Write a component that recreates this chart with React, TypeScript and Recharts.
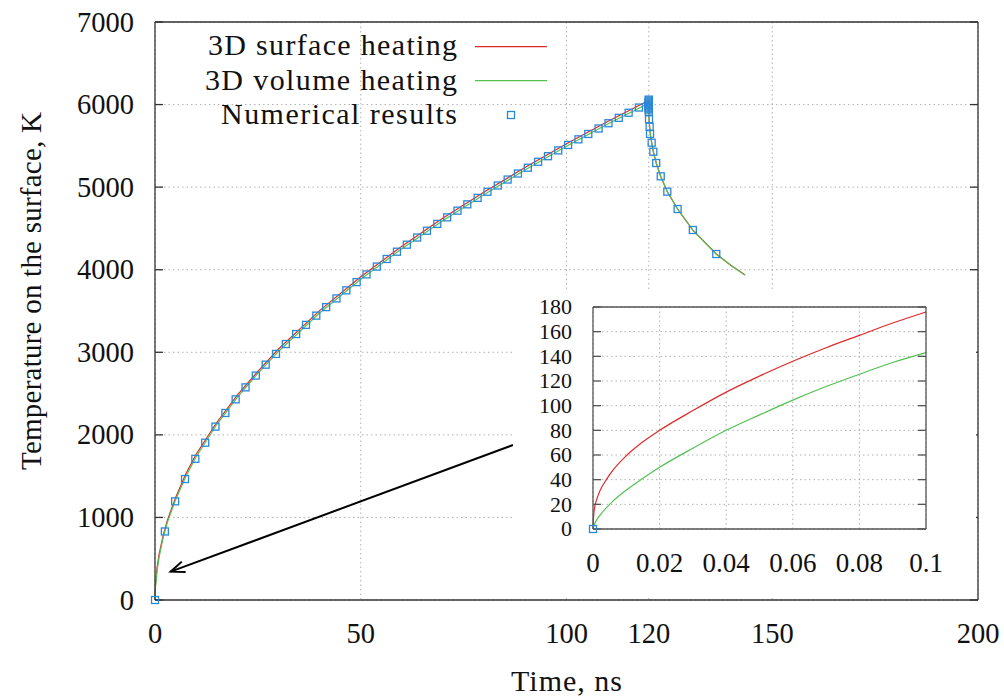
import React from "react";
import {
  CartesianGrid,
  ComposedChart,
  Legend,
  Line,
  ReferenceLine,
  Scatter,
  XAxis,
  YAxis,
} from "recharts";

const FONT = "'Liberation Serif', 'DejaVu Serif', serif";
const INK = "#111";
const FRAME = "#333";
const RED = "#dd2a2a";
const GREEN = "#52c152";
const BLUE = "#2a88d8";

// axis ticks
const mainXTicks = [0, 50, 100, 120, 150, 200];
const mainYTicks = [0, 1000, 2000, 3000, 4000, 5000, 6000, 7000];
const insetXTicks = [0, 0.02, 0.04, 0.06, 0.08, 0.1];
const insetYTicks = [0, 20, 40, 60, 80, 100, 120, 140, 160, 180];

// heating phase (ns / K)
const heatTime = [0, 0.1, 0.5, 1, 2, 3, 5, 7.5, 10, 15, 20, 25, 30, 40, 50, 60, 70, 80, 90, 100, 110, 120];
const surfaceHeat = [0, 176, 393, 556, 786, 963, 1240, 1530, 1765, 2150, 2480, 2770, 3040, 3505, 3915, 4285, 4625, 4940, 5240, 5525, 5795, 6050];
const volumeHeat = [0, 143, 350, 520, 760, 940, 1215, 1495, 1735, 2125, 2455, 2745, 3010, 3475, 3885, 4255, 4595, 4910, 5210, 5495, 5765, 6015];

// cooling phase, both models coincide
const coolTime = [120.05, 120.2, 120.4, 120.7, 121.1, 121.8, 122.9, 124.5, 127, 130.7, 136.4, 140, 143.4];
const coolTemp = [5830, 5730, 5630, 5540, 5430, 5290, 5130, 4945, 4735, 4480, 4190, 4050, 3936];

// numerical results
const numTime = [0, 2.4, 4.9, 7.3, 9.8, 12.2, 14.7, 17.1, 19.6, 22.0, 24.5, 26.9, 29.4, 31.8, 34.3, 36.7, 39.2, 41.6, 44.1, 46.5, 49.0, 51.4, 53.9, 56.3, 58.8, 61.2, 63.7, 66.1, 68.6, 71.0, 73.5, 75.9, 78.4, 80.8, 83.3, 85.7, 88.2, 90.6, 93.1, 95.5, 98.0, 100.4, 102.9, 105.3, 107.8, 110.2, 112.7, 115.1, 117.6];
const numTemp = [0, 830, 1195, 1465, 1710, 1905, 2100, 2265, 2430, 2575, 2718, 2850, 2980, 3100, 3221, 3332, 3444, 3547, 3652, 3750, 3850, 3943, 4038, 4130, 4218, 4303, 4390, 4472, 4555, 4634, 4715, 4792, 4870, 4944, 5020, 5092, 5165, 5235, 5307, 5375, 5445, 5511, 5579, 5644, 5710, 5774, 5839, 5901, 5964];
const peakTime = [120, 120, 120, 120, 120, 120, 120, 120, 120, 120, 120];
const peakTemp = [6060, 6048, 6036, 6024, 6012, 6000, 5988, 5976, 5964, 5952, 5940];
const numCoolTime = [120.0, 120.05, 120.2, 120.3, 120.7, 121.1, 121.8, 122.9, 124.5, 127.0, 130.7, 136.4];
const numCoolTemp = [5914, 5822, 5732, 5644, 5538, 5429, 5292, 5131, 4945, 4735, 4481, 4190];

// inset: first 0.1 ns
const insetTime = [0, 0.0002, 0.0006, 0.001, 0.002, 0.004, 0.006, 0.01, 0.015, 0.02, 0.03, 0.04, 0.05, 0.06, 0.07, 0.08, 0.09, 0.1];
const insetSurface = [0, 11, 19, 23, 30.5, 40, 47.7, 59.4, 70.7, 80, 96, 111, 124, 136, 147, 157, 167, 176];
const insetVolume = [0, 2.2, 4.9, 6.9, 10.9, 17.2, 22.6, 31.6, 41.1, 50, 65.5, 80, 92.5, 104.5, 115.5, 125.5, 135, 143];
const insetNumTime = [0];
const insetNumTemp = [0];

// arrow pointing at the origin (ns, K)
const arrowFrom = { x: 87, y: 1877 };
const arrowTo = { x: 3.8, y: 343 };

const pts = (ts: number[], vs: number[]) => ts.map((t, i) => ({ t, v: vs[i] }));

const surfaceData = [...pts(heatTime, surfaceHeat), ...pts(coolTime, coolTemp)];
const volumeData = [...pts(heatTime, volumeHeat), ...pts(coolTime, coolTemp)];
const numData = [...pts(numTime, numTemp), ...pts(peakTime, peakTemp), ...pts(numCoolTime, numCoolTemp)];

const NoTick = () => null;

const Square = (p: any) => (
  <rect x={p.cx - 3.5} y={p.cy - 3.5} width={7} height={7} fill="none" stroke={BLUE} strokeWidth={1.3} />
);

const xTick = (size: number) => (p: any) => (
  <text x={p.x} y={p.y + 43} textAnchor="middle" fontFamily={FONT} fontSize={size} fill={INK}>
    {p.payload.value}
  </text>
);

const yTick = (size: number) => (p: any) => (
  <text x={p.x - 21} y={p.y + size / 3} textAnchor="end" fontFamily={FONT} fontSize={size} fill={INK}>
    {p.payload.value}
  </text>
);

const XTitle = (p: any) => {
  const vb = p.viewBox;
  return (
    <text x={vb.x + vb.width / 2} y={vb.y + 91} textAnchor="middle" fontFamily={FONT} fontSize={30} textLength={111} fill={INK}>
      Time, ns
    </text>
  );
};

const YTitle = (p: any) => {
  const vb = p.viewBox;
  const cy = vb.y + vb.height / 2 - 20;
  return (
    <text transform={`translate(41, ${cy}) rotate(-90)`} textAnchor="middle" fontFamily={FONT} fontSize={29} textLength={358} fill={INK}>
      Temperature on the surface, K
    </text>
  );
};

const Arrow = (p: any) => {
  const { x1, y1, x2, y2 } = p;
  const ang = Math.atan2(y2 - y1, x2 - x1);
  const len = 15;
  const w1 = { x: x2 - len * Math.cos(ang - 0.38), y: y2 - len * Math.sin(ang - 0.38) };
  const w2 = { x: x2 - len * Math.cos(ang + 0.38), y: y2 - len * Math.sin(ang + 0.38) };
  return (
    <g>
      <line x1={x1} y1={y1} x2={x2} y2={y2} stroke="#000" strokeWidth={2} />
      <polyline points={`${w1.x},${w1.y} ${x2},${y2} ${w2.x},${w2.y}`} fill="none" stroke="#000" strokeWidth={2} />
    </g>
  );
};

const LegendBox = () => (
  <svg width={430} height={120} style={{ display: "block", overflow: "visible" }}>
    <g fontFamily={FONT} fontSize={30} fill={INK} textAnchor="end">
      <text x={317} y={35} textLength={249}>3D surface heating</text>
      <text x={317} y={70} textLength={252}>3D volume heating</text>
      <text x={317} y={104} textLength={236}>Numerical results</text>
    </g>
    <line x1={335} x2={407} y1={26.7} y2={26.7} stroke={RED} strokeWidth={1.3} />
    <line x1={335} x2={407} y1={60.7} y2={60.7} stroke={GREEN} strokeWidth={1.3} />
    <rect x={367.5} y={91.5} width={7} height={7} fill="none" stroke={BLUE} strokeWidth={1.3} />
  </svg>
);

function MainChart() {
  const ax = { stroke: FRAME, strokeWidth: 1.3 };
  return (
    <ComposedChart width={1004} height={699} margin={{ top: 22, right: 26, bottom: 98, left: 154 }}>
      <CartesianGrid xAxisId="x" yAxisId="y" stroke="#b0b0b0" strokeDasharray="1.5 3" />
      <XAxis xAxisId="x" type="number" dataKey="t" domain={[0, 200]} ticks={mainXTicks} interval={0}
        height={1} tickSize={0} tickMargin={0} tickLine={false} axisLine={ax}
        tick={xTick(28.5)} label={{ content: XTitle }} />
      <XAxis xAxisId="xb" type="number" domain={[0, 200]} allowDataOverflow ticks={mainXTicks} interval={0}
        orientation="bottom" mirror height={1} tickSize={8} axisLine={false} tickLine={ax} tick={NoTick} />
      <XAxis xAxisId="xt" type="number" domain={[0, 200]} allowDataOverflow ticks={mainXTicks} interval={0}
        orientation="top" mirror height={1} tickSize={8} axisLine={ax} tickLine={ax} tick={NoTick} />
      <YAxis yAxisId="y" type="number" dataKey="v" domain={[0, 7000]} ticks={mainYTicks} interval={0}
        width={1} tickSize={0} tickMargin={0} tickLine={false} axisLine={ax}
        tick={yTick(28.5)} label={{ content: YTitle }} />
      <YAxis yAxisId="yl" type="number" domain={[0, 7000]} allowDataOverflow ticks={mainYTicks} interval={0}
        orientation="left" mirror width={1} tickSize={8} axisLine={false} tickLine={ax} tick={NoTick} />
      <YAxis yAxisId="yr" type="number" domain={[0, 7000]} allowDataOverflow ticks={mainYTicks} interval={0}
        orientation="right" mirror width={1} tickSize={8} axisLine={ax} tickLine={ax} tick={NoTick} />
      <ReferenceLine xAxisId="x" yAxisId="y" segment={[arrowFrom, arrowTo]} shape={Arrow} />
      <Line xAxisId="x" yAxisId="y" data={surfaceData} dataKey="v" type="linear" stroke={RED} strokeWidth={1.2}
        dot={false} activeDot={false} isAnimationActive={false} />
      <Line xAxisId="x" yAxisId="y" data={volumeData} dataKey="v" type="linear" stroke={GREEN} strokeWidth={1.2}
        dot={false} activeDot={false} isAnimationActive={false} />
      <Scatter xAxisId="x" yAxisId="y" data={numData} dataKey="v" shape={Square} isAnimationActive={false} />
      <Legend verticalAlign="middle" align="center" layout="horizontal"
        wrapperStyle={{ left: 140, top: 20, width: 430, height: 120 }} content={LegendBox} />
    </ComposedChart>
  );
}

function InsetChart() {
  const surface = pts(insetTime, insetSurface);
  const volume = pts(insetTime, insetVolume);
  const num = pts(insetNumTime, insetNumTemp);
  const ax = { stroke: "#555", strokeWidth: 1.3 };
  return (
    <ComposedChart width={463} height={306} margin={{ top: 17, right: 50, bottom: 66, left: 79 }}>
      <CartesianGrid xAxisId="x" yAxisId="y" stroke="#b0b0b0" strokeDasharray="1.5 3" />
      <XAxis xAxisId="x" type="number" dataKey="t" domain={[0, 0.1]} ticks={insetXTicks} interval={0}
        height={1} tickSize={0} tickMargin={0} tickLine={false} axisLine={ax} tick={xTick(27)} />
      <XAxis xAxisId="xb" type="number" domain={[0, 0.1]} allowDataOverflow ticks={insetXTicks} interval={0}
        orientation="bottom" mirror height={1} tickSize={8} axisLine={false} tickLine={ax} tick={NoTick} />
      <XAxis xAxisId="xt" type="number" domain={[0, 0.1]} allowDataOverflow ticks={insetXTicks} interval={0}
        orientation="top" mirror height={1} tickSize={8} axisLine={ax} tickLine={ax} tick={NoTick} />
      <YAxis yAxisId="y" type="number" dataKey="v" domain={[0, 180]} ticks={insetYTicks} interval={0}
        width={1} tickSize={0} tickMargin={0} tickLine={false} axisLine={ax} tick={yTick(22)} />
      <YAxis yAxisId="yl" type="number" domain={[0, 180]} allowDataOverflow ticks={insetYTicks} interval={0}
        orientation="left" mirror width={1} tickSize={8} axisLine={false} tickLine={ax} tick={NoTick} />
      <YAxis yAxisId="yr" type="number" domain={[0, 180]} allowDataOverflow ticks={insetYTicks} interval={0}
        orientation="right" mirror width={1} tickSize={8} axisLine={ax} tickLine={ax} tick={NoTick} />
      <Line xAxisId="x" yAxisId="y" data={surface} dataKey="v" type="monotone" stroke={RED} strokeWidth={1.2}
        dot={false} activeDot={false} isAnimationActive={false} />
      <Line xAxisId="x" yAxisId="y" data={volume} dataKey="v" type="monotone" stroke={GREEN} strokeWidth={1.2}
        dot={false} activeDot={false} isAnimationActive={false} />
      <Scatter xAxisId="x" yAxisId="y" data={num} dataKey="v" shape={Square} isAnimationActive={false} />
    </ComposedChart>
  );
}

export default function App() {
  return (
    <div style={{ position: "absolute", left: 0, top: 0, width: 1004, height: 699, background: "#fff" }}>
      <MainChart />
      <div style={{ position: "absolute", left: 513, top: 290, width: 463, height: 306, background: "#fff" }}>
        <InsetChart />
      </div>
    </div>
  );
}
